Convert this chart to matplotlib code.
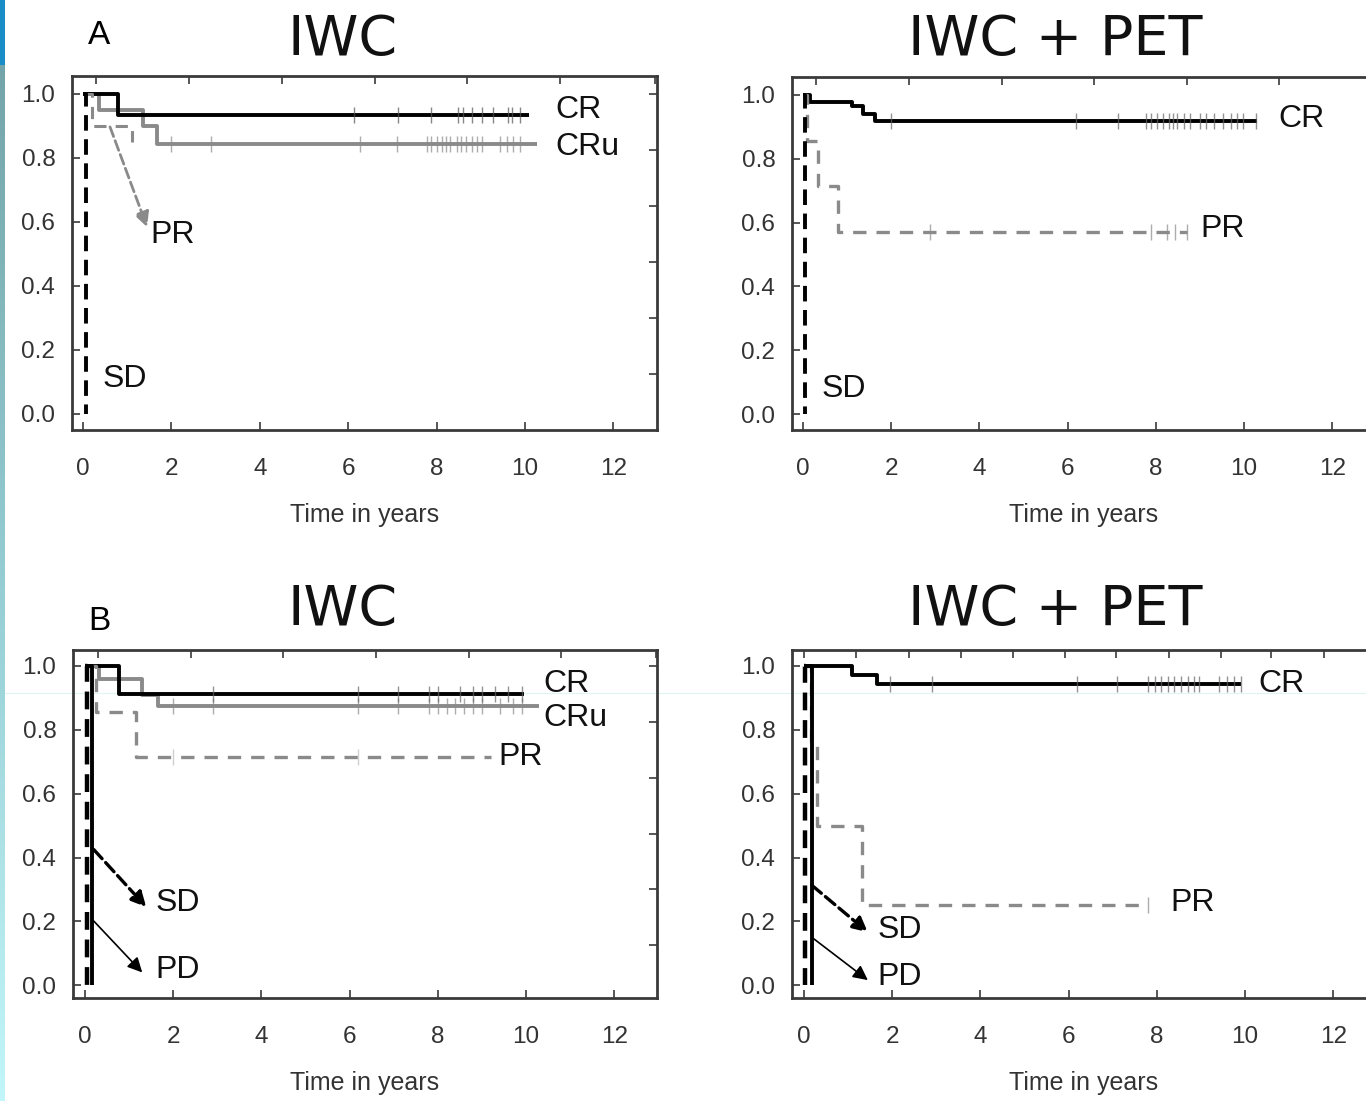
import numpy as np
import matplotlib
matplotlib.use("Agg")
import matplotlib.pyplot as plt
from matplotlib.colors import to_rgb

plt.rcParams.update({"font.family": ["Liberation Sans", "DejaVu Sans"]})

# ── data (years, survival) ──────────────────────────────────────
# panel A, IWC
A1_CR_T = [0, 0.8, 10.1]
A1_CR_S = [1.0, 0.935, 0.935]
A1_CR_C = [6.13, 7.13, 7.87, 8.48, 8.6, 8.8, 9.03, 9.28, 9.62, 9.7, 9.89]
A1_CRU_T = [0, 0.35, 1.35, 1.68, 10.27]
A1_CRU_S = [1.0, 0.95, 0.9, 0.845, 0.845]
A1_CRU_C = [2.0, 2.9, 6.27, 7.1, 7.78, 7.87, 8.0, 8.12, 8.21, 8.3, 8.46, 8.55,
            8.67, 8.8, 8.91, 9.03, 9.43, 9.59, 9.73, 9.89]
A1_PR_T = [0, 0.2, 1.1]
A1_PR_S = [1.0, 0.9, 0.85]
A1_SD_T = [0, 0.06]
A1_SD_S = [1.0, 0.0]

# panel A, IWC + PET
A2_CR_T = [0, 0.15, 1.1, 1.35, 1.63, 10.3]
A2_CR_S = [1.0, 0.979, 0.966, 0.94, 0.919, 0.919]
A2_CR_C = [2.0, 6.19, 7.14, 7.78, 7.89, 8.03, 8.16, 8.3, 8.39, 8.48, 8.64, 8.78,
           9.0, 9.14, 9.32, 9.52, 9.71, 9.84, 9.98, 10.27]
A2_PR_T = [0, 0.1, 0.34, 0.79, 8.7]
A2_PR_S = [1.0, 0.857, 0.714, 0.571, 0.571]
A2_PR_C = [2.88, 7.9, 8.25, 8.44, 8.7]
A2_SD_T = [0, 0.05]
A2_SD_S = [1.0, 0.0]

# panel B, IWC
B1_CR_T = [0, 0.77, 9.95]
B1_CR_S = [1.0, 0.912, 0.912]
B1_CR_C = [2.9, 6.2, 7.1, 7.8, 8.0, 8.5, 8.8, 9.0, 9.3, 9.6, 9.9]
B1_CRU_T = [0, 0.32, 1.3, 1.65, 10.3]
B1_CRU_S = [1.0, 0.96, 0.91, 0.874, 0.874]
B1_CRU_C = [2.0, 2.9, 6.2, 7.1, 7.8, 8.0, 8.2, 8.4, 8.6, 8.8, 9.0, 9.4, 9.7, 9.9]
B1_PR_T = [0, 0.25, 1.15, 9.2]
B1_PR_S = [1.0, 0.857, 0.714, 0.714]
B1_PR_C = [2.0, 6.2]
B1_SD_T = [0, 0.05]
B1_SD_S = [1.0, 0.0]
B1_PD_T = [0, 0.17]
B1_PD_S = [1.0, 0.0]

# panel B, IWC + PET
B2_CR_T = [0, 1.09, 1.65, 9.9]
B2_CR_S = [1.0, 0.972, 0.944, 0.944]
B2_CR_C = [1.95, 2.9, 6.2, 7.1, 7.8, 7.95, 8.1, 8.25, 8.4, 8.55, 8.7, 8.85, 8.95,
           9.4, 9.6, 9.75, 9.9]
B2_PR_T = [0, 0.15, 0.3, 1.32, 7.8]
B2_PR_S = [1.0, 0.75, 0.5, 0.25, 0.25]
B2_PR_C = [7.8]
B2_SD_T = [0, 0.03]
B2_SD_S = [1.0, 0.0]
B2_PD_T = [0, 0.18]
B2_PD_S = [1.0, 0.0]

X_TICKS = [0, 2, 4, 6, 8, 10, 12]
Y_TICKS = [0.0, 0.2, 0.4, 0.6, 0.8, 1.0]
TOP_TICKS = [0.3, 2.4, 4.5, 6.6, 8.7, 10.8, 12.95]
TOP_TICKS_B2 = [0, 1.18, 2.38, 3.56, 4.74, 5.92, 7.08, 8.28, 9.46, 10.6, 11.8]
RIGHT_TICKS = [1.0, 0.825, 0.65, 0.475, 0.3, 0.125]

W, H = 1366, 1101
fig = plt.figure(figsize=(W / 100, H / 100), dpi=100)

GRAY = "#8a8a8a"
SPINE = "#3a3a3a"


def px_axes(left, top, right, bottom):
    ax = fig.add_axes([left / W, 1 - bottom / H, (right - left) / W, (bottom - top) / H])
    ax.set_facecolor("none")
    return ax


def km(ax, t, s, color, ls="-", lw=2.6, dashes=None):
    line, = ax.step(t, s, where="post", color=color, lw=lw, ls=ls, solid_capstyle="butt")
    if dashes:
        line.set_dashes(dashes)


def censor(ax, t, s, c, color):
    t = np.asarray(t)
    s = np.asarray(s)
    idx = np.searchsorted(t, c, side="right") - 1
    ax.plot(c, s[np.clip(idx, 0, len(s) - 1)], ls="none", marker="|", ms=11,
            mew=1.0, color=color, alpha=0.7)


def setup(ax, xlim, ylim, top_ticks, right=True):
    ax.set_xlim(*xlim)
    ax.set_ylim(*ylim)
    ax.set_xticks(X_TICKS)
    ax.set_yticks(Y_TICKS)
    ax.set_yticklabels([f"{v:.1f}" for v in Y_TICKS])
    ax.tick_params(direction="in", length=6, width=1.2, color=SPINE,
                   labelsize=17.5, labelcolor="#333333")
    ax.tick_params(axis="x", pad=20)
    ax.tick_params(axis="y", pad=12)
    for sp in ax.spines.values():
        sp.set_color(SPINE)
        sp.set_linewidth(2.0)
    sec = ax.secondary_xaxis("top")
    sec.set_xticks(top_ticks)
    sec.tick_params(direction="in", length=6, width=1.2, color=SPINE, labeltop=False)
    sec.spines["top"].set_visible(False)
    if right:
        secy = ax.secondary_yaxis("right")
        secy.set_yticks(RIGHT_TICKS)
        secy.tick_params(direction="in", length=6, width=1.2, color=SPINE, labelright=False)
        secy.spines["right"].set_visible(False)
    ax.set_xlabel("Time in years", fontsize=18, color="#333333", labelpad=17)


def label(ax, x, y, txt):
    ax.text(x, y, txt, fontsize=23, ha="left", va="center", color="#111111")


def arrow(ax, start, end, color, ls="-", lw=1.2):
    ax.annotate("", xy=end, xytext=start,
                arrowprops=dict(arrowstyle="-|>", color=color, lw=lw, ls=ls,
                                mutation_scale=22, shrinkA=0, shrinkB=0))


SD_DASH = (4, 2.2)
PR_DASH = (4, 3)

# faint slide guide line, kept behind the panels
fig.add_artist(plt.Line2D([0, 1], [1 - 693 / H, 1 - 693 / H], color="#e0f3f3",
                          lw=0.8, zorder=-5))

# ── A, IWC ───────────────────────────────────────────────────────
ax = px_axes(72, 76, 657, 430)
setup(ax, (-0.25, 12.99), (-0.05, 1.056), TOP_TICKS)
km(ax, A1_CRU_T, A1_CRU_S, GRAY, lw=2.8)
censor(ax, A1_CRU_T, A1_CRU_S, A1_CRU_C, GRAY)
km(ax, A1_CR_T, A1_CR_S, "black", lw=2.8)
censor(ax, A1_CR_T, A1_CR_S, A1_CR_C, "#555555")
km(ax, A1_PR_T, A1_PR_S, GRAY, lw=2.2, dashes=PR_DASH)
km(ax, A1_SD_T, A1_SD_S, "black", lw=2.8, dashes=SD_DASH)
arrow(ax, (0.61, 0.897), (1.45, 0.584), GRAY, ls="--", lw=2.0)
label(ax, 10.68, 0.95, "CR")
label(ax, 10.68, 0.834, "CRu")
label(ax, 1.52, 0.56, "PR")
label(ax, 0.45, 0.11, "SD")

# ── A, IWC + PET ─────────────────────────────────────────────────
ax = px_axes(792, 77, 1376, 430)
setup(ax, (-0.25, 12.99), (-0.05, 1.056), TOP_TICKS, right=False)
km(ax, A2_CR_T, A2_CR_S, "black", lw=2.8)
censor(ax, A2_CR_T, A2_CR_S, A2_CR_C, "#666666")
km(ax, A2_PR_T, A2_PR_S, GRAY, lw=2.4, dashes=PR_DASH)
censor(ax, A2_PR_T, A2_PR_S, A2_PR_C, GRAY)
km(ax, A2_SD_T, A2_SD_S, "black", lw=2.8, dashes=SD_DASH)
label(ax, 10.77, 0.925, "CR")
label(ax, 9.0, 0.58, "PR")
label(ax, 0.43, 0.08, "SD")

# ── B, IWC ───────────────────────────────────────────────────────
ax = px_axes(73, 650, 657, 998)
setup(ax, (-0.27, 12.97), (-0.04, 1.05), TOP_TICKS)
km(ax, B1_CRU_T, B1_CRU_S, GRAY, lw=2.8)
censor(ax, B1_CRU_T, B1_CRU_S, B1_CRU_C, GRAY)
km(ax, B1_CR_T, B1_CR_S, "black", lw=2.8)
censor(ax, B1_CR_T, B1_CR_S, B1_CR_C, "#666666")
km(ax, B1_PR_T, B1_PR_S, GRAY, lw=2.4, dashes=PR_DASH)
censor(ax, B1_PR_T, B1_PR_S, B1_PR_C, "#bbbbbb")
km(ax, B1_SD_T, B1_SD_S, "black", lw=3.2, dashes=SD_DASH)
km(ax, B1_PD_T, B1_PD_S, "black", lw=2.8)
arrow(ax, (0.2, 0.425), (1.39, 0.245), "black", ls="--", lw=2.4)
arrow(ax, (0.16, 0.207), (1.3, 0.04), "black", lw=1.2)
label(ax, 10.39, 0.944, "CR")
label(ax, 10.39, 0.837, "CRu")
label(ax, 9.37, 0.715, "PR")
label(ax, 1.59, 0.257, "SD")
label(ax, 1.59, 0.047, "PD")

# ── B, IWC + PET ─────────────────────────────────────────────────
ax = px_axes(792, 650, 1376, 998)
setup(ax, (-0.27, 12.97), (-0.04, 1.05), TOP_TICKS_B2, right=False)
km(ax, B2_CR_T, B2_CR_S, "black", lw=2.8)
censor(ax, B2_CR_T, B2_CR_S, B2_CR_C, "#666666")
km(ax, B2_PR_T, B2_PR_S, GRAY, lw=2.4, dashes=PR_DASH)
censor(ax, B2_PR_T, B2_PR_S, B2_PR_C, GRAY)
km(ax, B2_SD_T, B2_SD_S, "black", lw=3.2, dashes=SD_DASH)
km(ax, B2_PD_T, B2_PD_S, "black", lw=2.8)
arrow(ax, (0.18, 0.313), (1.45, 0.166), "black", ls="--", lw=2.4)
arrow(ax, (0.18, 0.15), (1.45, 0.016), "black", lw=1.2)
label(ax, 10.3, 0.944, "CR")
label(ax, 8.3, 0.257, "PR")
label(ax, 1.66, 0.172, "SD")
label(ax, 1.66, 0.025, "PD")

# ── titles and panel letters ─────────────────────────────────────
tkw = dict(fontsize=40, ha="center", va="center", family="DejaVu Sans", color="#111111")
fig.text(343 / W, 1 - 40 / H, "IWC", **tkw)
fig.text(1055 / W, 1 - 40 / H, "IWC + PET", **tkw)
fig.text(343 / W, 1 - 610 / H, "IWC", **tkw)
fig.text(1055 / W, 1 - 610 / H, "IWC + PET", **tkw)
fig.text(99 / W, 1 - 35 / H, "A", fontsize=24, ha="center", va="center")
fig.text(99 / W, 1 - 621 / H, "B", fontsize=24, ha="center", va="center")

# slide background strip on the left edge
rows = np.linspace(0, 1, H)
c_top, c_mid, c_bot = np.array(to_rgb("#6f9fa4")), np.array(to_rgb("#93cbd0")), np.array(to_rgb("#c2f6fa"))
strip = np.where(rows[:, None] < 0.5,
                 c_top + (c_mid - c_top) * (rows[:, None] / 0.5),
                 c_mid + (c_bot - c_mid) * ((rows[:, None] - 0.5) / 0.5))
strip[:65] = to_rgb("#1a8cc6")
sax = fig.add_axes([0, 0, 5 / W, 1])
sax.imshow(strip[:, None, :], aspect="auto")
sax.axis("off")

fig.savefig("out.png", dpi=100)
